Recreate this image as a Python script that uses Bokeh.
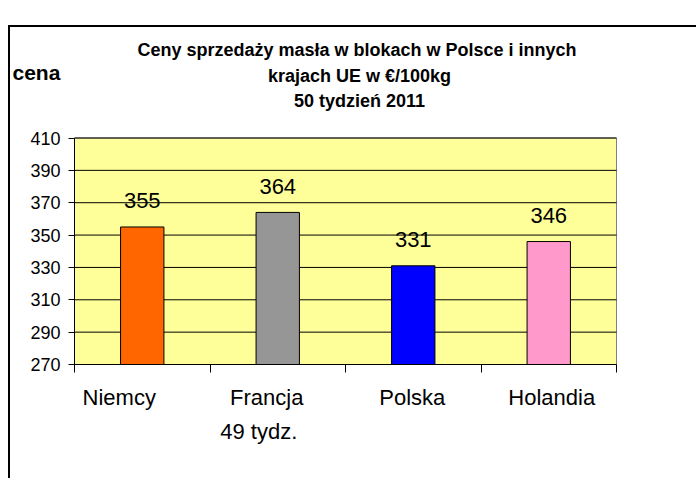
from bokeh.plotting import figure
from bokeh.models import Range1d, FixedTicker, Label, ColumnDataSource, LinearAxis
from bokeh.core.properties import value
from bokeh.embed import file_html
from bokeh.resources import INLINE

# ---- data ----
categories = ["Niemcy", "Francja", "Polska", "Holandia"]
sublabels = ["", "49 tydz.", "", ""]
prices = [355, 364, 331, 346]
colors = ["#FF6600", "#969696", "#0000FF", "#FF99CC"]
y_ticks = [270, 290, 310, 330, 350, 370, 390, 410]
title_lines = ["Ceny sprzedaży masła w blokach w Polsce i  innych",
               "krajach UE w €/100kg",
               "50 tydzień 2011"]
y_label = "cena"

# ---- layout / styles (pixels) ----
FONT = "Liberation Sans"
W, H = 688, 453                       # canvas size
PL, PR, PT, PB = 64, 606, 110.5, 337  # inner plot area in canvas pixels
cat_dx = [-23, -11, -1, 3]
sub_dx = [-19, -19, 0, 0]
title_sx = 349                        # screen x of title centre
title_sy = [431, 405, 380]            # screen y (from canvas bottom)
ylab_sx, ylab_sy = 2, 408

n = len(categories)
y0, y1 = y_ticks[0], y_ticks[-1]
kx = (PR - PL) / n
ky = (PB - PT) / (y1 - y0)
x_range = Range1d(-PL / kx, (W - PL) / kx)
y_range = Range1d(y0 - (H - PB) / ky, y1 + PT / ky)

p = figure(width=W, height=H, output_backend="svg", toolbar_location=None,
           x_range=x_range, y_range=y_range,
           x_axis_location=None, y_axis_location=None,
           min_border=0, min_border_left=0, min_border_right=0,
           min_border_top=0, min_border_bottom=0,
           styles={"margin-top": "25px", "margin-left": "8px",
                   "border-top": "2px solid #000",
                   "border-left": "2px solid #000"})
p.outline_line_color = None
p.background_fill_color = "white"
p.border_fill_color = "white"
p.xgrid.visible = False
p.ygrid.visible = False

# plot area
p.quad(left=0, right=n, bottom=y0, top=y1, fill_color="#FFFF99",
       line_color="#808080", line_width=1)
# grid lines
p.segment(x0=[0] * (len(y_ticks) - 1), x1=[n] * (len(y_ticks) - 1),
          y0=y_ticks[1:], y1=y_ticks[1:], line_color="black", line_width=1)

# bars
xs = [i + 0.5 for i in range(n)]
src = ColumnDataSource(dict(x=xs, top=prices, color=colors,
                            lab=[str(v) for v in prices]))
p.vbar(x="x", top="top", bottom=y0, width=0.32, fill_color="color",
       line_color="black", line_width=1, source=src)
p.text(x="x", y="top", text="lab", source=src, text_align="center",
       text_baseline="alphabetic", y_offset=-26, text_font=value(FONT),
       text_font_size="22px", text_color="black")

# axes
ya = LinearAxis(fixed_location=0, bounds=(y0, y1),
                ticker=FixedTicker(ticks=y_ticks))
ya.major_tick_out = 6
ya.major_tick_in = 0
ya.minor_tick_line_color = None
ya.axis_line_color = "black"
ya.major_tick_line_color = "black"
ya.major_label_text_font = FONT
ya.major_label_text_font_size = "18px"
ya.major_label_text_color = "black"
ya.major_label_standoff = 8
p.add_layout(ya, "left")

xa = LinearAxis(fixed_location=y0, bounds=(0, n),
                ticker=FixedTicker(ticks=list(range(n + 1))))
xa.major_tick_out = 8
xa.major_tick_in = 0
xa.minor_tick_line_color = None
xa.axis_line_color = "black"
xa.major_tick_line_color = "black"
xa.major_label_overrides = {i: "" for i in range(n + 1)}
xa.major_label_text_font_size = "1px"
p.add_layout(xa, "below")

# category labels
csrc = ColumnDataSource(dict(x=xs, y=[y0] * n, t=categories, dx=cat_dx,
                             s=sublabels, sdx=sub_dx))
p.text(x="x", y="y", text="t", x_offset="dx", y_offset=33, source=csrc,
       text_align="center", text_baseline="alphabetic", text_font=value(FONT),
       text_font_size="22px", text_color="black")
p.text(x="x", y="y", text="s", x_offset="sdx", y_offset=67, source=csrc,
       text_align="center", text_baseline="alphabetic", text_font=value(FONT),
       text_font_size="22px", text_color="black")

# titles
for t, sy in zip(title_lines, title_sy):
    p.add_layout(Label(x=title_sx, y=sy, x_units="screen", y_units="screen",
                       text=t, text_align="center", text_baseline="middle",
                       text_font=FONT, text_font_size="18px",
                       text_font_style="bold", text_color="black"))

p.add_layout(Label(x=ylab_sx, y=ylab_sy, x_units="screen", y_units="screen",
                   text=y_label, text_align="left", text_baseline="middle",
                   text_font=FONT, text_font_size="21px",
                   text_font_style="bold", text_color="black"))

open("out.html", "w").write(file_html(p, INLINE))
